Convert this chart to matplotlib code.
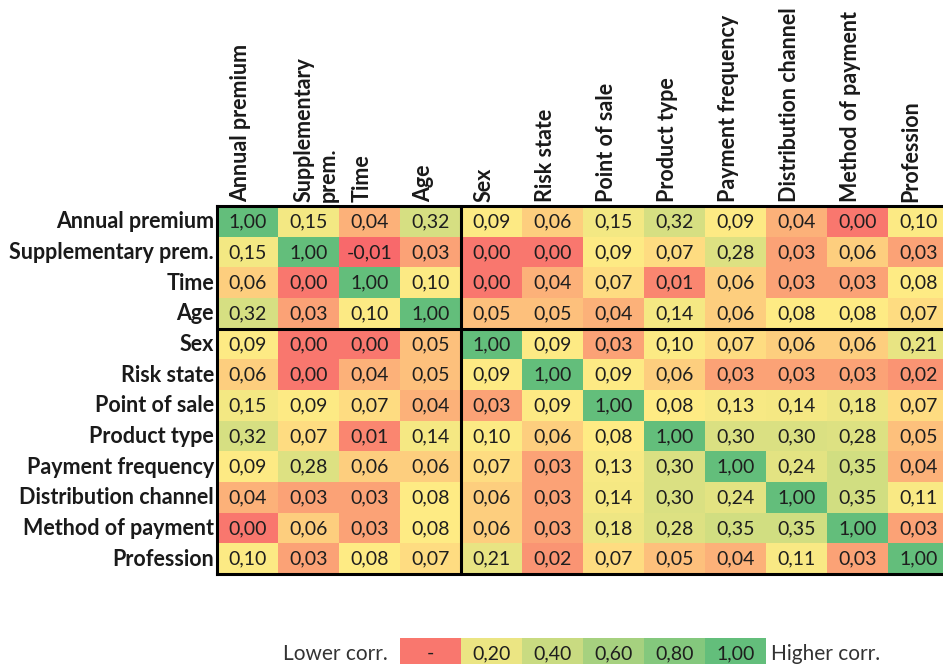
import numpy as np
import matplotlib
matplotlib.use("Agg")
import matplotlib.pyplot as plt
from matplotlib.colors import LinearSegmentedColormap, TwoSlopeNorm
from matplotlib.patches import Rectangle

plt.rcParams['font.family'] = ['Lato', 'DejaVu Sans']

row_labels = ["Annual premium", "Supplementary prem.", "Time", "Age", "Sex",
              "Risk state", "Point of sale", "Product type", "Payment frequency",
              "Distribution channel", "Method of payment", "Profession"]
col_labels = ["Annual premium", "Supplementary\nprem.", "Time", "Age", "Sex",
              "Risk state", "Point of sale", "Product type", "Payment frequency",
              "Distribution channel", "Method of payment", "Profession"]

corr = [
    [1.00, 0.15, 0.04, 0.32, 0.09, 0.06, 0.15, 0.32, 0.09, 0.04, 0.00, 0.10],
    [0.15, 1.00, -0.01, 0.03, 0.00, 0.00, 0.09, 0.07, 0.28, 0.03, 0.06, 0.03],
    [0.06, 0.00, 1.00, 0.10, 0.00, 0.04, 0.07, 0.01, 0.06, 0.03, 0.03, 0.08],
    [0.32, 0.03, 0.10, 1.00, 0.05, 0.05, 0.04, 0.14, 0.06, 0.08, 0.08, 0.07],
    [0.09, 0.00, 0.00, 0.05, 1.00, 0.09, 0.03, 0.10, 0.07, 0.06, 0.06, 0.21],
    [0.06, 0.00, 0.04, 0.05, 0.09, 1.00, 0.09, 0.06, 0.03, 0.03, 0.03, 0.02],
    [0.15, 0.09, 0.07, 0.04, 0.03, 0.09, 1.00, 0.08, 0.13, 0.14, 0.18, 0.07],
    [0.32, 0.07, 0.01, 0.14, 0.10, 0.06, 0.08, 1.00, 0.30, 0.30, 0.28, 0.05],
    [0.09, 0.28, 0.06, 0.06, 0.07, 0.03, 0.13, 0.30, 1.00, 0.24, 0.35, 0.04],
    [0.04, 0.03, 0.03, 0.08, 0.06, 0.03, 0.14, 0.30, 0.24, 1.00, 0.35, 0.11],
    [0.00, 0.06, 0.03, 0.08, 0.06, 0.03, 0.18, 0.28, 0.35, 0.35, 1.00, 0.03],
    [0.10, 0.03, 0.08, 0.07, 0.21, 0.02, 0.07, 0.05, 0.04, 0.11, 0.03, 1.00],
]

legend_values = [0.00, 0.20, 0.40, 0.60, 0.80, 1.00]
legend_labels = ["-", "0,20", "0,40", "0,60", "0,80", "1,00"]


def fmt(v):
    return f"{v:.2f}".replace(".", ",")


data = np.array(corr)
n = data.shape[0]

# red - yellow - green scale, yellow sitting just above the bulk of small values
cmap = LinearSegmentedColormap.from_list("ryg", ["#F8696B", "#FFEB84", "#63BE7B"])
norm = TwoSlopeNorm(vmin=data.min(), vcenter=0.08, vmax=data.max())

W, H = 943, 664
fig = plt.figure(figsize=(W / 100, H / 100), dpi=100)
ax = fig.add_axes([217 / W, (H - 574) / H, 732 / W, (574 - 206) / H])

ax.pcolormesh(np.arange(n + 1), np.arange(n + 1), data, cmap=cmap, norm=norm)
ax.set_xlim(0, n)
ax.set_ylim(n, 0)
ax.set_xticks([])
ax.set_yticks([])

for i in range(n):
    for j in range(n):
        ax.text(j + 0.5, i + 0.52, fmt(data[i, j]), ha="center", va="center",
                fontsize=14, color="#1e1e1e")

# row labels
for i, lab in enumerate(row_labels):
    ax.text(-0.05, i + 0.52, lab, ha="right", va="center", fontsize=15.5,
            fontweight="bold", color="#1a1a1a")

# column headers, rotated
for j, lab in enumerate(col_labels):
    xc = j + 0.38 if "\n" not in lab else j + 0.62
    ax.text(xc, -0.12, lab, rotation=90, ha="center", va="bottom",
            multialignment="left", fontsize=15.5, fontweight="bold",
            color="#1a1a1a", linespacing=1.2)

# block borders
for s in ax.spines.values():
    s.set_linewidth(2.2)
ax.axvline(4, color="black", lw=2.2)
ax.axhline(4, color="black", lw=2.2)

# colour key under the table
ly = 14.1
for k, (v, lab) in enumerate(zip(legend_values, legend_labels)):
    x0 = 3 + k
    ax.add_patch(Rectangle((x0, ly), 1, 1, facecolor=cmap(norm(v)),
                           edgecolor="none", clip_on=False))
    ax.text(x0 + 0.5, ly + 0.5, lab, ha="center", va="center", fontsize=14,
            color="#1e1e1e", clip_on=False)
ax.text(2.8, ly + 0.5, "Lower corr.", ha="right", va="center", fontsize=15,
        color="#333333")
ax.text(9.08, ly + 0.5, "Higher corr.", ha="left", va="center", fontsize=15,
        color="#333333")

fig.savefig("out.png", dpi=100, facecolor="white")
